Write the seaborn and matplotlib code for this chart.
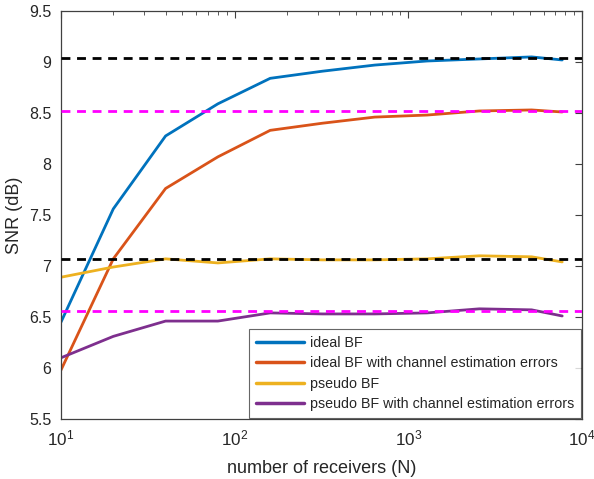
import numpy as np
import pandas as pd
import seaborn as sns
import matplotlib.pyplot as plt
from matplotlib.ticker import FixedLocator, LogLocator, NullFormatter

receivers = [10, 20, 40, 80, 160, 320, 640, 1280, 2560, 5120, 7680]
ideal_bf = [6.45, 7.56, 8.275, 8.59, 8.84, 8.91, 8.97, 9.01, 9.03, 9.05, 9.02]
ideal_bf_err = [5.98, 7.07, 7.76, 8.07, 8.33, 8.40, 8.46, 8.48, 8.52, 8.53, 8.51]
pseudo_bf = [6.89, 6.99, 7.07, 7.03, 7.07, 7.06, 7.06, 7.07, 7.10, 7.09, 7.04]
pseudo_bf_err = [6.10, 6.31, 6.46, 6.46, 6.54, 6.53, 6.53, 6.54, 6.58, 6.57, 6.51]

black_limits = [9.035, 7.07]
magenta_limits = [8.52, 6.555]

names = ["ideal BF", "ideal BF with channel estimation errors",
         "pseudo BF", "pseudo BF with channel estimation errors"]
series = [ideal_bf, ideal_bf_err, pseudo_bf, pseudo_bf_err]
colors = ["#0072BD", "#D95319", "#EDB120", "#7E2F8E"]
xtick_labels = ["$10^{1}$", "$10^{2}$", "$10^{3}$", "$10^{4}$"]

df = pd.concat([pd.DataFrame({"N": receivers, "SNR": s, "curve": n})
                for n, s in zip(names, series)], ignore_index=True)

sns.set_style("white")
plt.rcParams["font.family"] = ["Liberation Sans", "DejaVu Sans"]
plt.rcParams["mathtext.fontset"] = "custom"
plt.rcParams["mathtext.rm"] = "Liberation Sans"
plt.rcParams["mathtext.it"] = "Liberation Sans"
edge = "#404040"
txt = "#262626"

fig = plt.figure(figsize=(5.94, 4.79), dpi=100)
ax = fig.add_axes([0.1027, 0.1253, 0.8773, 0.8517])

sns.lineplot(data=df, x="N", y="SNR", hue="curve", hue_order=names,
             palette=colors, linewidth=2, ax=ax, zorder=2)

for v in black_limits:
    ax.axhline(v, color="black", ls=(0, (3.2, 2.4)), lw=2, zorder=3)
for v in magenta_limits:
    ax.axhline(v, color="#FF00FF", ls=(0, (3.2, 2.4)), lw=2, zorder=3)

ax.set_xscale("log")
ax.set_xlim(10, 1e4)
ax.set_ylim(5.5, 9.5)
ax.xaxis.set_major_locator(FixedLocator([10, 100, 1000, 10000]))
ax.set_xticklabels(xtick_labels)
ax.yaxis.set_major_locator(FixedLocator(np.arange(5.5, 9.51, 0.5)))
ax.set_yticklabels(["5.5", "6", "6.5", "7", "7.5", "8", "8.5", "9", "9.5"])
ax.xaxis.set_minor_locator(LogLocator(base=10, subs=np.arange(2, 10)))
ax.xaxis.set_minor_formatter(NullFormatter())

ax.tick_params(which="both", direction="in", top=True, right=True,
               colors=edge, labelcolor=txt, labelsize=11.5)
ax.tick_params(which="major", length=5, width=0.8)
ax.tick_params(which="minor", length=3, width=0.6)
ax.tick_params(axis="x", which="major", pad=7, labelsize=12.3)
ax.tick_params(axis="y", which="major", pad=7)
for sp in ax.spines.values():
    sp.set_color(edge)
    sp.set_linewidth(0.9)

ax.set_xlabel("number of receivers (N)", fontsize=13, color=txt, labelpad=8)
ax.set_ylabel("SNR (dB)", fontsize=13, color=txt, labelpad=4)

leg = ax.legend(loc="lower right", fontsize=10.3, frameon=True, fancybox=False,
                edgecolor=edge, borderaxespad=0.1, handlelength=3.4,
                labelspacing=0.45, handletextpad=0.4, borderpad=0.45)
leg.get_frame().set_linewidth(0.8)
for line in leg.get_lines():
    line.set_linewidth(2.5)

fig.savefig("out.png", dpi=100)
